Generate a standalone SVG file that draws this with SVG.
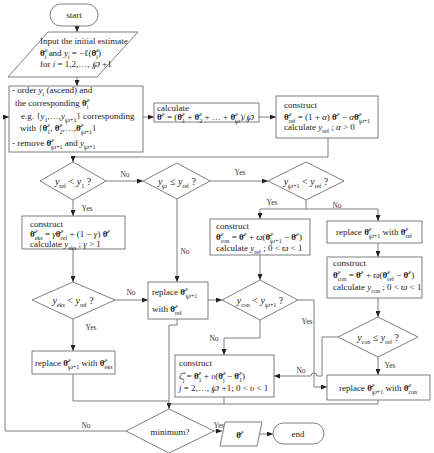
<svg xmlns="http://www.w3.org/2000/svg" width="434" height="453" viewBox="0 0 434 453">
  <defs>
    <marker id="arrow" markerUnits="userSpaceOnUse" markerWidth="6" markerHeight="5" refX="6" refY="2.5" orient="auto">
      <path d="M0,0 L6,2.5 L0,5 z" fill="#222"/>
    </marker>
    <style>
      .box { fill: #fff; stroke: #707070; stroke-width: 0.9; }
      .ln { fill: none; stroke: #707070; stroke-width: 0.9; }
      .ar { marker-end: url(#arrow); }
      .t { font-family: "Liberation Serif", "DejaVu Serif", serif; font-size: 9px; fill: #222; }
      .lbl { font-family: "Liberation Serif", "DejaVu Serif", serif; font-size: 7.5px; fill: #333; text-anchor: middle; }
      .dm { font-family: "Liberation Serif", "DejaVu Serif", serif; font-size: 10px; fill: #222; text-anchor: middle; }
      .c { text-anchor: middle; }
      .i { font-style: italic; }
      .b { font-weight: bold; }
      .sp { font-size: 6px; baseline-shift: 3.5px; }
      .sb { font-size: 6px; baseline-shift: -2.5px; }
    </style>
  </defs>

  <!-- connectors -->
  <g id="connectors">
    <path class="ln ar" d="M77,26 V32"/>
    <path class="ln ar" d="M77,77 V86"/>
    <path class="ln ar" d="M143,117 H154"/>
    <path class="ln ar" d="M259,117 H276"/>
    <path class="ln ar" d="M328,138 V157 H73 V162"/>
    <path class="ln ar" d="M106,181 H143"/>
    <path class="ln ar" d="M210,181 H268"/>
    <path class="ln" d="M306,200 V209 M260,209 H378"/>
    <path class="ln ar" d="M260,209 V219"/>
    <path class="ln ar" d="M378,209 V221"/>
    <path class="ln ar" d="M177,199 V282"/>
    <path class="ln ar" d="M73,200 V216"/>
    <path class="ln ar" d="M73,249 V282"/>
    <path class="ln ar" d="M115,300 H148"/>
    <path class="ln ar" d="M73,319 V351"/>
    <path class="ln ar" d="M208,300 H222"/>
    <path class="ln ar" d="M260,255 V280"/>
    <path class="ln ar" d="M298,300 H314 V387 H327"/>
    <path class="ln ar" d="M260,320 V338 H224 V355"/>
    <path class="ln ar" d="M378,243 V257"/>
    <path class="ln ar" d="M378,298 V317"/>
    <path class="ln ar" d="M378,357 V375"/>
    <!-- the No branch hops over the vertical Yes line at x=314 -->
    <path class="ln ar" d="M338,337 H322 V376 H317 a3,3 0 0 0 -6,0 H274"/>
    <path class="ln ar" d="M177,319 V325 H169 V409"/>
    <path class="ln" d="M73,374 V401 H169"/>
    <path class="ln" d="M224,397 V404"/>
    <path class="ln" d="M378,400 V404 H169"/>
    <path class="ln ar" d="M126,431 H5 V117 H9"/>
    <path class="ln ar" d="M214,431 H222"/>
    <path class="ln ar" d="M259,434 H273"/>

    <text class="lbl" x="125" y="177">No</text>
    <text class="lbl" x="240" y="175">Yes</text>
    <text class="lbl" x="272" y="205">Yes</text>
    <text class="lbl" x="337" y="208">No</text>
    <text class="lbl" x="185" y="254">No</text>
    <text class="lbl" x="87" y="211">Yes</text>
    <text class="lbl" x="131" y="295">No</text>
    <text class="lbl" x="91" y="330">Yes</text>
    <text class="lbl" x="307" y="324">Yes</text>
    <text class="lbl" x="214" y="341">No</text>
    <text class="lbl" x="390" y="368">Yes</text>
    <text class="lbl" x="301" y="373">No</text>
    <text class="lbl" x="86" y="428">No</text>
    <text class="lbl" x="219" y="428">Yes</text>
  </g>

  <!-- terminals -->
  <g id="start">
    <rect class="box" x="50" y="4" width="48" height="22" rx="11"/>
    <text class="t c" x="74" y="18">start</text>
  </g>

  <g id="input">
    <polygon class="box" points="48,32 138,32 97,77 8,77"/>
    <text class="t" x="40" y="44">Input the initial estimate</text>
    <text class="t" x="40" y="56"><tspan class="b">θ̄</tspan><tspan class="sp">*</tspan><tspan class="sb" dx="-3">i</tspan> and <tspan class="i">y</tspan><tspan class="sb">i</tspan> = −ℓ(<tspan class="b">θ̄</tspan><tspan class="sp">*</tspan><tspan class="sb" dx="-3">i</tspan>)</text>
    <text class="t" x="40" y="67">for <tspan class="i">i</tspan> = 1,2,…, <tspan class="i">℘</tspan> +1</text>
  </g>

  <g id="order">
    <rect class="box" x="9" y="86" width="134" height="66"/>
    <text class="t" x="12" y="93">- order <tspan class="i">y</tspan><tspan class="sb">i</tspan> (ascend) and</text>
    <text class="t" x="15" y="106">the corresponding <tspan class="b">θ̄</tspan><tspan class="sp">*</tspan><tspan class="sb" dx="-3">i</tspan></text>
    <text class="t" x="21" y="119">e.g. {<tspan class="i">y</tspan><tspan class="sb">1</tspan>,…,<tspan class="i">y</tspan><tspan class="sb">℘+1</tspan>} corresponding</text>
    <text class="t" x="20" y="131">with {<tspan class="b">θ̄</tspan><tspan class="sp">*</tspan><tspan class="sb" dx="-3">1</tspan>, <tspan class="b">θ̄</tspan><tspan class="sp">*</tspan><tspan class="sb" dx="-3">2</tspan>,…,<tspan class="b">θ̄</tspan><tspan class="sp">*</tspan><tspan class="sb" dx="-3">℘+1</tspan>}</text>
    <text class="t" x="12" y="146">- remove <tspan class="b">θ̄</tspan><tspan class="sp">*</tspan><tspan class="sb" dx="-3">℘+1</tspan> and <tspan class="i">y</tspan><tspan class="sb">℘+1</tspan></text>
  </g>

  <g id="centroid">
    <rect class="box" x="154" y="103" width="105" height="19"/>
    <text class="t" x="157" y="111">calculate</text>
    <text class="t" x="157" y="120" font-size="8.5"><tspan class="b">θ̄</tspan><tspan class="sp">*</tspan> = (<tspan class="b">θ̄</tspan><tspan class="sp">*</tspan><tspan class="sb" dx="-3">1</tspan> + <tspan class="b">θ̄</tspan><tspan class="sp">*</tspan><tspan class="sb" dx="-3">2</tspan> + … + <tspan class="b">θ̄</tspan><tspan class="sp">*</tspan><tspan class="sb" dx="-3">℘</tspan>)/<tspan class="i">℘</tspan></text>
  </g>

  <g id="reflect">
    <rect class="box" x="276" y="96" width="102" height="42"/>
    <text class="t" x="284" y="108">construct</text>
    <text class="t" x="284" y="120" font-size="8.5"><tspan class="b">θ̄</tspan><tspan class="sp">*</tspan><tspan class="sb" dx="-3">ref</tspan> = (1 + <tspan class="i">α</tspan>) <tspan class="b">θ̄</tspan><tspan class="sp">*</tspan> − <tspan class="i">α</tspan><tspan class="b">θ̄</tspan><tspan class="sp">*</tspan><tspan class="sb" dx="-3">℘+1</tspan></text>
    <text class="t" x="284" y="130">calculate <tspan class="i">y</tspan><tspan class="sb">ref</tspan> ; <tspan class="i">α</tspan> &gt; 0</text>
  </g>

  <g id="test-ref-best">
    <polygon class="box" points="73,162 106,181 73,200 40,181"/>
    <text class="dm" x="73" y="185"><tspan class="i">y</tspan><tspan class="sb">ref</tspan> &lt; <tspan class="i">y</tspan><tspan class="sb">1</tspan> ?</text>
  </g>

  <g id="test-ref-second">
    <polygon class="box" points="177,163 210,181 177,199 143,181"/>
    <text class="dm" x="177" y="185"><tspan class="i">y</tspan><tspan class="sb">℘</tspan> ≤ <tspan class="i">y</tspan><tspan class="sb">ref</tspan> ?</text>
  </g>

  <g id="test-ref-worst">
    <polygon class="box" points="306,162 344,181 306,200 268,181"/>
    <text class="dm" x="306" y="185"><tspan class="i">y</tspan><tspan class="sb">℘+1</tspan> &lt; <tspan class="i">y</tspan><tspan class="sb">ref</tspan> ?</text>
  </g>

  <g id="expand">
    <rect class="box" x="22" y="216" width="103" height="33"/>
    <text class="t" x="30" y="227">construct</text>
    <text class="t" x="30" y="237" font-size="8.5"><tspan class="b">θ̄</tspan><tspan class="sp">*</tspan><tspan class="sb" dx="-3">eks</tspan> = <tspan class="i">γ</tspan><tspan class="b">θ̄</tspan><tspan class="sp">*</tspan><tspan class="sb" dx="-3">ref</tspan> + (1 − <tspan class="i">γ</tspan>) <tspan class="b">θ̄</tspan><tspan class="sp">*</tspan></text>
    <text class="t" x="30" y="247">calculate <tspan class="i">y</tspan><tspan class="sb">eks</tspan> ; <tspan class="i">γ</tspan> &gt; 1</text>
  </g>

  <g id="test-eks">
    <polygon class="box" points="73,282 115,300 73,319 32,300"/>
    <text class="dm" x="73" y="304"><tspan class="i">y</tspan><tspan class="sb">eks</tspan> &lt; <tspan class="i">y</tspan><tspan class="sb">ref</tspan> ?</text>
  </g>

  <g id="replace-eks">
    <rect class="box" x="32" y="351" width="83" height="23"/>
    <text class="t" x="35" y="366">replace <tspan class="b">θ̄</tspan><tspan class="sp">*</tspan><tspan class="sb" dx="-3">℘+1</tspan> with <tspan class="b">θ̄</tspan><tspan class="sp">*</tspan><tspan class="sb" dx="-3">eks</tspan></text>
  </g>

  <g id="replace-ref">
    <rect class="box" x="148" y="282" width="60" height="37"/>
    <text class="t" x="152" y="295">replace <tspan class="b">θ̄</tspan><tspan class="sp">*</tspan><tspan class="sb" dx="-2">℘+1</tspan></text>
    <text class="t" x="152" y="312">with <tspan class="b">θ̄</tspan><tspan class="sp">*</tspan><tspan class="sb" dx="-3">ref</tspan></text>
  </g>

  <g id="contract-outside">
    <rect class="box" x="210" y="219" width="100" height="36"/>
    <text class="t" x="216" y="229">construct</text>
    <text class="t" x="216" y="240" font-size="8.5"><tspan class="b">θ̄</tspan><tspan class="sp">*</tspan><tspan class="sb" dx="-3">con</tspan> = <tspan class="b">θ̄</tspan><tspan class="sp">*</tspan> + <tspan class="i">ϖ</tspan>(<tspan class="b">θ̄</tspan><tspan class="sp">*</tspan><tspan class="sb" dx="-3">℘+1</tspan> − <tspan class="b">θ̄</tspan><tspan class="sp">*</tspan>)</text>
    <text class="t" x="216" y="251">calculate <tspan class="i">y</tspan><tspan class="sb">ref</tspan> ;  0 &lt; <tspan class="i">ϖ</tspan> &lt; 1</text>
  </g>

  <g id="test-con-outside">
    <polygon class="box" points="260,280 298,300 260,320 222,300"/>
    <text class="dm" x="260" y="304"><tspan class="i">y</tspan><tspan class="sb">con</tspan> &lt; <tspan class="i">y</tspan><tspan class="sb">℘+1</tspan> ?</text>
  </g>

  <g id="replace-ref-2">
    <rect class="box" x="327" y="221" width="95" height="22"/>
    <text class="t c" x="374" y="235">replace <tspan class="b">θ̄</tspan><tspan class="sp">*</tspan><tspan class="sb" dx="-3">℘+1</tspan> with <tspan class="b">θ̄</tspan><tspan class="sp">*</tspan><tspan class="sb" dx="-3">ref</tspan></text>
  </g>

  <g id="contract-inside">
    <rect class="box" x="327" y="257" width="95" height="41"/>
    <text class="t" x="333" y="266">construct</text>
    <text class="t" x="333" y="278" font-size="8.5"><tspan class="b">θ̄</tspan><tspan class="sp">*</tspan><tspan class="sb" dx="-3">con</tspan> = <tspan class="b">θ̄</tspan><tspan class="sp">*</tspan> + <tspan class="i">ϖ</tspan>(<tspan class="b">θ̄</tspan><tspan class="sp">*</tspan><tspan class="sb" dx="-3">ref</tspan> − <tspan class="b">θ̄</tspan><tspan class="sp">*</tspan>)</text>
    <text class="t" x="333" y="290">calculate <tspan class="i">y</tspan><tspan class="sb">con</tspan> ;  0 &lt; <tspan class="i">ϖ</tspan> &lt; 1</text>
  </g>

  <g id="test-con-inside">
    <polygon class="box" points="378,317 418,337 378,357 338,337"/>
    <text class="dm" x="378" y="341"><tspan class="i">y</tspan><tspan class="sb">con</tspan> ≤ <tspan class="i">y</tspan><tspan class="sb">ref</tspan> ?</text>
  </g>

  <g id="replace-con">
    <rect class="box" x="327" y="375" width="103" height="25"/>
    <text class="t c" x="378" y="391">replace <tspan class="b">θ̄</tspan><tspan class="sp">*</tspan><tspan class="sb" dx="-3">℘+1</tspan>  with <tspan class="b">θ̄</tspan><tspan class="sp">*</tspan><tspan class="sb" dx="-3">con</tspan></text>
  </g>

  <g id="shrink">
    <rect class="box" x="175" y="355" width="99" height="42"/>
    <text class="t" x="179" y="366">construct</text>
    <text class="t" x="179" y="379"><tspan class="i">ζ</tspan><tspan class="sp">*</tspan><tspan class="sb" dx="-3">j</tspan> = <tspan class="b">θ̄</tspan><tspan class="sp">*</tspan><tspan class="sb" dx="-3">1</tspan> + <tspan class="i">υ</tspan>(<tspan class="b">θ̄</tspan><tspan class="sp">*</tspan><tspan class="sb" dx="-3">j</tspan> − <tspan class="b">θ̄</tspan><tspan class="sp">*</tspan><tspan class="sb" dx="-3">1</tspan>)</text>
    <text class="t" x="179" y="391"><tspan class="i">j</tspan> = 2,…, <tspan class="i">℘</tspan> +1;  0 &lt; <tspan class="i">υ</tspan> &lt; 1</text>
  </g>

  <g id="test-minimum">
    <polygon class="box" points="169,409 214,431 169,453 126,431"/>
    <text class="t c" x="170" y="435">minimum?</text>
  </g>

  <g id="output">
    <polygon class="box" points="225,422 262,422 257,446 220,446"/>
    <text class="t c" x="240" y="438"><tspan class="b">θ̄</tspan><tspan class="sp">*</tspan></text>
  </g>

  <g id="end">
    <rect class="box" x="273" y="423" width="51" height="21" rx="10.5"/>
    <text class="t c" x="298" y="437">end</text>
  </g>
</svg>
